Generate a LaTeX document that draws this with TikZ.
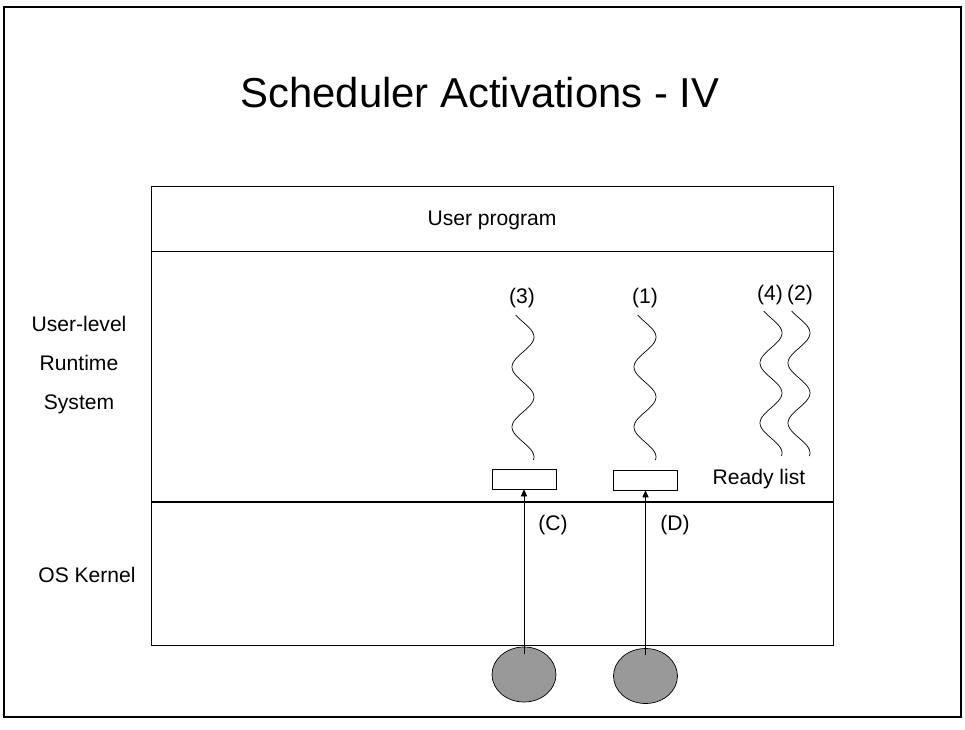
\documentclass[tikz,border=0pt]{standalone}
\usepackage{fontspec}
\setmainfont{Liberation Sans}
\usetikzlibrary{arrows.meta, shapes.geometric}
\definecolor{cpugray}{HTML}{999999}

\begin{document}
\begin{tikzpicture}[x=0.02cm, y=-0.02cm, >={Triangle[length=4pt,width=3.5pt]},
  lbl/.style={font=\fontsize{12}{14}\selectfont, inner sep=0pt},
  slot/.style={draw, minimum width=1.28cm, minimum height=0.4cm, inner sep=0pt},
  cpu/.style={ellipse, draw, fill=cpugray, minimum width=1.28cm, minimum height=1.1cm, inner sep=0pt}]
  \useasboundingbox (0,0) rectangle (965,730);
  \draw[line width=1.2pt] (4,7) rectangle (961,717);
  \node[font=\fontsize{23.8}{28}\selectfont, anchor=base, inner sep=0pt] (title) at (480,108) {Scheduler Activations - IV};

  % layers
  \draw (151,186) rectangle (833,645);
  \draw (151,251) -- (833,251);
  \draw[line width=1pt] (151,502) -- (833,502);
  \node[lbl] (prog) at (492,220) {User program};
  \node[lbl, align=center, font=\fontsize{12}{22}\selectfont] (rts) at (79,365) {User-level\\Runtime\\System};
  \node[lbl] (kern) at (87,575) {OS Kernel};

  % threads
  \node[lbl] (thr3) at (522,298) {(3)};
  \node[lbl] (thr1) at (645,298) {(1)};
  \node[lbl] (thr4) at (770,295) {(4)};
  \node[lbl] (thr2) at (800,295) {(2)};
  \foreach \c/\a/\b in {523/315/460, 645/315/460, 771/311/456, 799/311/456}
    \draw plot[domain=\a:\b, samples=70, smooth] ({\c+11*sin(6*(\x-\a-7))}, \x);
  \node[lbl] (ready) at (759,479) {Ready list};

  % activations
  \node[slot] (slotC) at (524,479) {};
  \node[slot] (slotD) at (645.5,480) {};
  \node[cpu] (cpuC) at (524,674.5) {};
  \node[cpu] (cpuD) at (645.5,676) {};
  \draw[->, shorten <=-4pt] (cpuC.north) -- (slotC.south);
  \draw[->, shorten <=-4pt] (cpuD.north) -- (slotD.south);
  \node[lbl] (actC) at (553,525) {(C)};
  \node[lbl] (actD) at (675,525) {(D)};
\end{tikzpicture}
\end{document}
